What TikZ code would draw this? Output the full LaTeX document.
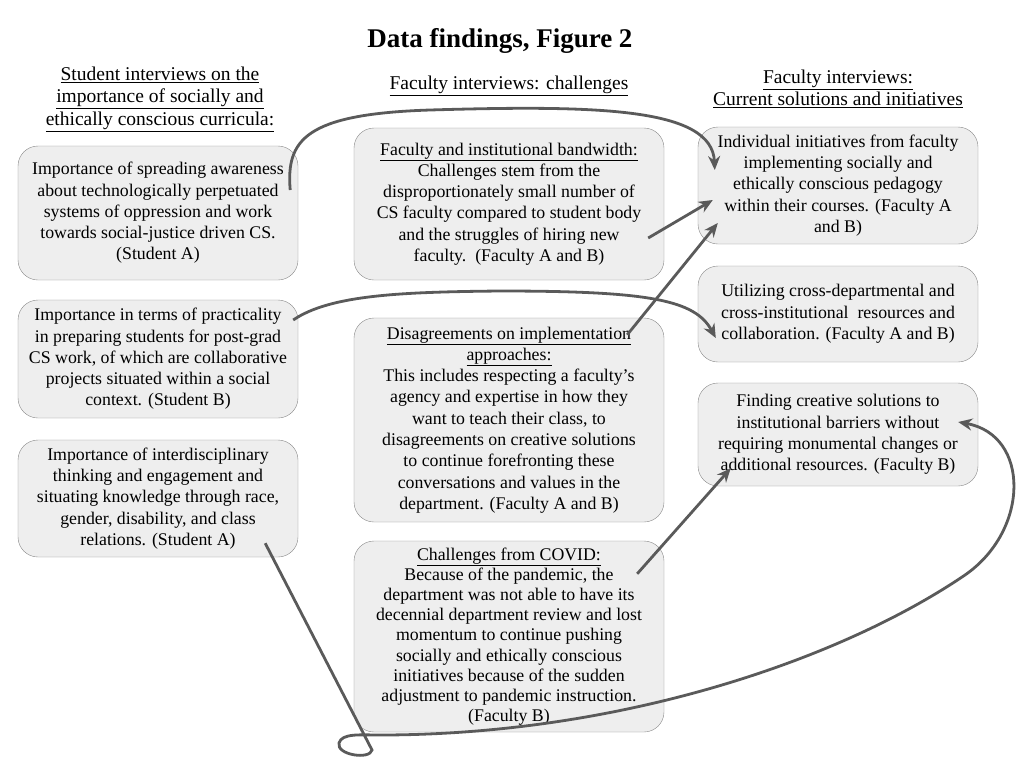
\documentclass[tikz,border=0pt]{standalone}
\usepackage{fontspec}
\setmainfont{Liberation Serif}
\usetikzlibrary{ arrows.meta
               , positioning
               }
\definecolor{boxfill}{HTML}{EEEEEE}
\definecolor{boxline}{HTML}{8A8A8A}
\definecolor{linkgray}{HTML}{5A5A5A}

\begin{document}
\begin{tikzpicture}
      [ x=1pt, y=-1pt
      , finding/.style={draw=boxline, fill=boxfill, rounded corners=20pt,
                        align=center, inner sep=0pt,
                        execute at begin node={\rule{0pt}{22pt}},
                        font=\fontsize{17.8}{21.3}\selectfont}
      , student/.style={finding, minimum width=280pt}
      , faculty/.style={finding, minimum width=310pt}
      , heading/.style={align=center, font=\fontsize{19.5}{22.5}\selectfont}
      , link/.style={linkgray, line width=2.8pt,
                     -{Stealth[length=14pt, width=12pt]}}
      ]
    \useasboundingbox (0,0) rectangle (1034,772);

    \node (title) at (500,41) {\fontsize{27}{30}\selectfont\bfseries Data findings, Figure 2};

    \node[heading] (HS) at (160,99) {\underline{Student interviews on the}\\
      \underline{importance of socially and}\\
      \underline{ethically conscious curricula:}};
    \node[heading] (HF) at (509,86) {\underline{Faculty interviews: challenges}};
    \node[heading] (HC) at (838,89) {\underline{Faculty interviews:}\\
      \underline{Current solutions and initiatives}};

    % student interviews
    \node[student, minimum height=134pt] (S1) at (158,213) {Importance of spreading awareness\\
      about technologically perpetuated\\ systems of oppression and work\\
      towards social-justice driven CS.\\ (Student A)};
    \node[student, minimum height=118pt] (S2) at (158,359) {Importance in terms of practicality\\
      in preparing students for post-grad\\ CS work, of which are collaborative\\
      projects situated within a social\\ context. (Student B)};
    \node[student, minimum height=117pt] (S3) at (158,498.5) {Importance of interdisciplinary\\
      thinking and engagement and\\ situating knowledge through race,\\
      gender, disability, and class\\ relations. (Student A)};

    % faculty challenges
    \node[faculty, minimum height=152pt] (F1) at (509,204) {\underline{Faculty and institutional bandwidth:}\\
      Challenges stem from the\\ disproportionately small number of\\
      CS faculty compared to student body\\ and the struggles of hiring new\\
      faculty.\ \ (Faculty A and B)};
    \node[faculty, minimum height=204pt] (F2) at (509,420) {\underline{Disagreements on implementation}\\
      \underline{approaches:}\\ This includes respecting a faculty's\\
      agency and expertise in how they\\ want to teach their class, to\\
      disagreements on creative solutions\\ to continue forefronting these\\
      conversations and values in the\\ department. (Faculty A and B)};
    \node[faculty, minimum height=191pt, font=\fontsize{17.8}{20.2}\selectfont] (F3) at (509,636.5) {\underline{Challenges from COVID:}\\
      Because of the pandemic, the\\ department was not able to have its\\
      decennial department review and lost\\ momentum to continue pushing\\
      socially and ethically conscious\\ initiatives because of the sudden\\
      adjustment to pandemic instruction.\\ (Faculty B)};

    % current solutions
    \node[student, minimum height=117pt] (R1) at (838,185.5) {Individual initiatives from faculty\\
      implementing socially and\\ ethically conscious pedagogy\\
      within their courses. (Faculty A\\ and B)};
    \node[student, minimum height=96pt] (R2) at (838,314) {Utilizing cross-departmental and\\
      cross-institutional\ \ resources and\\ collaboration. (Faculty A and B)};
    \node[student, minimum height=103pt] (R3) at (838,434.5) {Finding creative solutions to\\
      institutional barriers without\\ requiring monumental changes or\\
      additional resources. (Faculty B)};

    \draw[link] ([shift={(-8,-23)}]S1.east)
      .. controls (286,140) and (305,114) .. (430,110)
      .. controls (600,105) and (712,108) .. ([shift={(17,-15.5)}]R1.west);
    \draw[link] ([shift={(-5,-39)}]S2.east)
      .. controls (330,295) and (400,292) .. (500,291)
      .. controls (650,291) and (695,300) .. ([shift={(18,24)}]R2.west);

    \draw[link] ([shift={(-16,34)}]F1.east) -- ([shift={(15,14.5)}]R1.west);
    \draw[link] ([shift={(-37,17)}]F2.north east) -- ([shift={(20,37.5)}]R1.west);
    \draw[link] ([shift={(-27,33)}]F3.north east) -- ([shift={(33,-18)}]R3.south west);

    \draw[link] ([shift={(-33,-14)}]S3.south east) -- (372,750)
      .. controls (370,760) and (336,755) .. (339,743)
      .. controls (342,733) and (360,735) .. (380,735)
      .. controls (620,735) and (840,660) .. (965,575)
      .. controls (1030,530) and (1030,435) .. ([shift={(-20,-12.5)}]R3.east);
\end{tikzpicture}
\end{document}
